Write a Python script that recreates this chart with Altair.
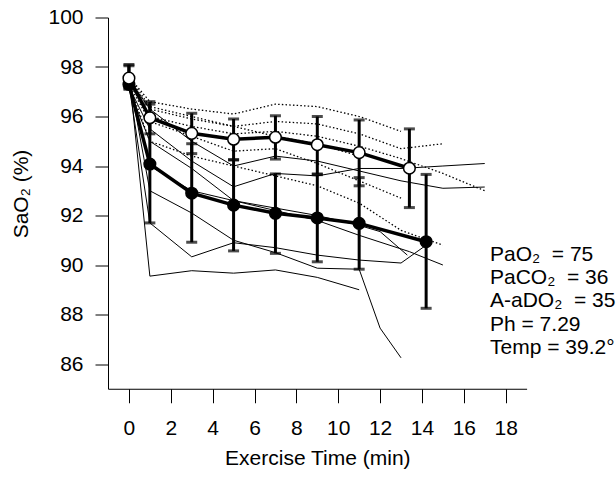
import altair as alt
import pandas as pd

# ---------------- data ----------------
# x-axis ticks and y-axis ticks
x_ticks = [0, 2, 4, 6, 8, 10, 12, 14, 16, 18]
y_ticks = [86, 88, 90, 92, 94, 96, 98, 100]

# group means (open circles) with error-bar ends
open_time = [0, 1, 3, 5, 7, 9, 11, 13.4]
open_mean = [97.55, 95.95, 95.32, 95.08, 95.16, 94.86, 94.54, 93.91]
open_hi = [98.05, 96.6, 96.13, 95.9, 96.03, 96.0, 95.86, 95.5]
open_lo = [97.1, 95.3, 94.5, 94.25, 94.28, 93.68, 93.2, 92.32]

# group means (filled circles) with error-bar ends
fill_time = [0, 1, 3, 5, 7, 9, 11, 14.2]
fill_mean = [97.3, 94.08, 92.9, 92.42, 92.09, 91.9, 91.68, 90.94]
fill_hi = [98.1, 96.5, 94.9, 94.25, 93.68, 93.65, 93.53, 93.66]
fill_lo = [97.15, 91.7, 90.92, 90.57, 90.47, 90.13, 89.83, 88.25]

# individual subjects, filled group (solid thin lines)
s1_t = [0, 1, 3, 5, 7, 9, 11]
s1_v = [97.8, 89.55, 89.77, 89.67, 89.8, 89.5, 89.0]
s2_t = [0, 1, 3, 5, 7, 9, 11, 12, 13]
s2_v = [97.6, 93.0, 92.1, 91.0, 90.5, 89.87, 89.83, 87.45, 86.25]
s3_t = [0, 1, 3, 5, 7, 9, 11, 13, 14.2]
s3_v = [97.3, 91.7, 90.33, 90.9, 90.7, 90.4, 90.2, 90.08, 90.8]
s4_t = [0, 1, 3, 5, 7, 9, 11, 13, 15, 17]
s4_v = [97.2, 95.5, 94.2, 93.16, 93.7, 93.6, 93.9, 93.9, 94.0, 94.1]
s5_t = [0, 1, 3, 5, 7, 9, 11, 13, 15, 17]
s5_v = [97.5, 96.3, 95.0, 94.0, 94.4, 94.2, 93.8, 93.4, 93.1, 93.15]
s6_t = [0, 1, 3, 5, 7, 9, 11, 12, 13.3]
s6_v = [97.4, 94.0, 93.0, 92.6, 92.3, 92.0, 91.6, 91.35, 90.4]
s7_t = [0, 1, 3, 5, 7, 9, 11, 13.4, 15]
s7_v = [97.1, 95.0, 93.9, 92.6, 92.2, 91.8, 91.2, 90.54, 90.0]

# individual subjects, open group (dotted thin lines)
d1_t = [0, 1, 3, 5, 7, 9, 11, 13]
d1_v = [97.6, 96.6, 96.3, 96.1, 96.5, 96.4, 96.0, 95.4]
d2_t = [0, 1, 3, 5, 7, 9, 11, 13, 15]
d2_v = [97.5, 96.3, 95.9, 95.6, 95.8, 95.7, 95.3, 94.7, 94.9]
d3_t = [0, 1, 3, 5, 7, 9, 11, 13, 15, 17]
d3_v = [97.4, 96.0, 95.6, 95.3, 95.4, 95.2, 94.8, 94.3, 93.7, 93.0]
d4_t = [0, 1, 3, 5, 7, 9, 11, 13]
d4_v = [97.3, 95.8, 95.2, 94.6, 94.7, 94.1, 93.4, 92.7]
d5_t = [0, 1, 3, 5, 7, 9, 11, 13, 15]
d5_v = [97.3, 95.0, 94.4, 94.0, 93.6, 93.2, 92.5, 91.4, 90.8]
d6_t = [0, 1, 3, 5, 7, 9, 11]
d6_v = [97.6, 96.4, 96.0, 95.6, 95.2, 94.9, 94.4]

note_lines = ["PaO\u2082\u00a0 = 75", "PaCO\u2082\u00a0 = 36", "A-aDO\u2082\u00a0 = 35",
              "Ph = 7.29", "Temp = 39.2\u00b0"]

# ---------------- tables ----------------
def subj_table(pairs):
    rows = []
    for name, ts, vs in pairs:
        for i, (t, v) in enumerate(zip(ts, vs)):
            rows.append({"subject": name, "order": i, "time": t, "sao2": v})
    return pd.DataFrame(rows)

solid_df = subj_table([("s1", s1_t, s1_v), ("s2", s2_t, s2_v), ("s3", s3_t, s3_v),
                       ("s4", s4_t, s4_v), ("s5", s5_t, s5_v), ("s6", s6_t, s6_v),
                       ("s7", s7_t, s7_v)])
dotted_df = subj_table([("d1", d1_t, d1_v), ("d2", d2_t, d2_v), ("d3", d3_t, d3_v),
                        ("d4", d4_t, d4_v), ("d5", d5_t, d5_v), ("d6", d6_t, d6_v)])
open_df = pd.DataFrame({"time": open_time, "sao2": open_mean, "hi": open_hi, "lo": open_lo})
fill_df = pd.DataFrame({"time": fill_time, "sao2": fill_mean, "hi": fill_hi, "lo": fill_lo})

FONT = "Liberation Sans"
xs = alt.Scale(domain=[-1, 19], nice=False, zero=False)
ys = alt.Scale(domain=[85, 100], nice=False, zero=False)

X = alt.X("time:Q", scale=xs, axis=alt.Axis(values=x_ticks, title="Exercise Time (min)",
                                            tickSize=14, labelPadding=15, titlePadding=9))
Y = alt.Y("sao2:Q", scale=ys, axis=alt.Axis(values=y_ticks, title="SaO\u2082 (%)",
                                            tickSize=13, labelPadding=12, titlePadding=16,
                                            titleY=176))

solid = alt.Chart(solid_df).mark_line(color="black", strokeWidth=1).encode(
    x=X, y=Y, detail="subject:N", order="order:Q")
dotted = alt.Chart(dotted_df).mark_line(color="black", strokeWidth=1.3, strokeDash=[1.5, 2.2]).encode(
    x="time:Q", y="sao2:Q", detail="subject:N", order="order:Q")

def group_layers(df, filled):
    line = alt.Chart(df).mark_line(color="black", strokeWidth=3.5).encode(x="time:Q", y="sao2:Q")
    bar = alt.Chart(df).mark_rule(color="black", strokeWidth=3).encode(
        x="time:Q", y="lo:Q", y2="hi:Q")
    cap_hi = alt.Chart(df).mark_tick(color="black", orient="horizontal", size=11, thickness=3).encode(
        x="time:Q", y="hi:Q")
    cap_lo = alt.Chart(df).mark_tick(color="black", orient="horizontal", size=11, thickness=3).encode(
        x="time:Q", y="lo:Q")
    pts = alt.Chart(df).mark_point(
        filled=True, size=135, opacity=1,
        fill="black" if filled else "white", stroke="black", strokeWidth=1.5
    ).encode(x="time:Q", y="sao2:Q")
    return [line, bar, cap_hi, cap_lo, pts]

note = alt.Chart(pd.DataFrame({"a": [0]})).mark_text(
    text=note_lines, align="left", baseline="alphabetic", lineHeight=23.3,
    font=FONT, fontSize=21, color="black"
).encode(x=alt.value(382), y=alt.value(243.3))

chart = alt.layer(
    solid, dotted, *group_layers(fill_df, True), *group_layers(open_df, False), note
).properties(
    width=418.6, height=371.25,
    padding={"left": 108, "top": 17.5, "right": 89.4, "bottom": 89.25},
    autosize=alt.AutoSizeParams(type="none"),
    background="white"
).configure_view(stroke=None).configure_axis(
    grid=False, domainColor="black", tickColor="black", labelColor="black",
    titleColor="black", labelFont=FONT, titleFont=FONT, labelFontSize=21,
    titleFontSize=21, titleFontWeight="normal", domainWidth=1, tickWidth=1
)

chart.save("out.html", embed_options={"renderer": "svg", "actions": False})
